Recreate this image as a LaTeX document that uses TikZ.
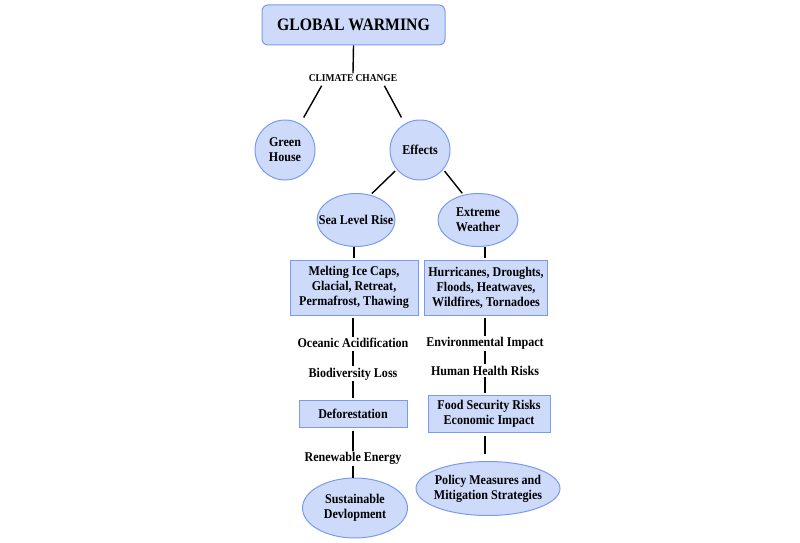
\documentclass[tikz,border=0pt]{standalone}
\usepackage{fontspec}
\setmainfont[FakeStretch=0.9]{Liberation Serif}
\usetikzlibrary{shapes.geometric,calc}
\definecolor{boxfill}{RGB}{205,218,250}
\definecolor{boxline}{RGB}{120,155,240}
\tikzset{
  lbl/.style={font=\bfseries\fontsize{13.4}{15}\selectfont, align=center, inner sep=1pt},
  rbox/.style={lbl, draw=boxline, fill=boxfill, line width=1pt, inner sep=4pt},
  circ/.style={lbl, draw=boxline, fill=boxfill, line width=1pt, circle, minimum size=60pt, inner sep=0pt},
  ell/.style={lbl, draw=boxline, fill=boxfill, line width=1pt, ellipse, inner xsep=-14pt, inner ysep=-4pt},
  conn/.style={draw=black, line width=1.4pt},
}
\begin{document}
\begin{tikzpicture}[x=1pt,y=-1pt]
\useasboundingbox (0,0) rectangle (800,543);
% nodes
\node[rbox, rounded corners=6pt, minimum width=183pt, minimum height=40pt, font=\bfseries\fontsize{17.5}{20}\selectfont] (gw) at (353.5,25) {GLOBAL WARMING};
\node[lbl, font=\bfseries\fontsize{10.5}{12}\selectfont] (cc) at (353,78) {CLIMATE CHANGE};
\node[circ] (gh) at (285,150) {Green\\House};
\node[circ] (ef) at (420,150) {Effects};
\node[ell, minimum width=78pt, minimum height=53pt] (sl) at (356,220) {Sea Level Rise};
\node[ell, minimum width=80pt, minimum height=53pt] (ew) at (478,220) {Extreme\\Weather};
\node[rbox, minimum width=128pt, minimum height=55pt] (mi) at (354,287.5) {Melting Ice Caps,\\Glacial, Retreat,\\Permafrost, Thawing};
\node[rbox, minimum width=122pt, minimum height=55pt] (hu) at (486,287.5) {Hurricanes, Droughts,\\Floods, Heatwaves,\\Wildfires, Tornadoes};
\node[lbl] (oa) at (353,343) {Oceanic Acidification};
\node[lbl] (bl) at (353,374) {Biodiversity Loss};
\node[rbox, minimum width=108pt, minimum height=27pt] (de) at (353,413.5) {Deforestation};
\node[lbl] (re) at (353,458) {Renewable Energy};
\node[ell, minimum width=105pt, minimum height=60pt] (sd) at (355,508) {Sustainable\\Devlopment};
\node[lbl] (ei) at (485,343) {Environmental Impact};
\node[lbl] (hh) at (485,371) {Human Health Risks};
\node[rbox, minimum width=122pt, minimum height=37pt] (fs) at (489,413.5) {Food Security Risks\\Economic Impact};
\node[ell, minimum width=144pt, minimum height=54pt] (pm) at (488,488.5) {Policy Measures and\\Mitigation Strategies};
% connectors
\draw[conn] (gw.south) -- (cc.north);
\draw[conn, shorten >=7pt] ([xshift=14pt,yshift=-3pt]cc.south west) -- (gh.60);
\draw[conn, shorten >=7pt] ([xshift=-14pt,yshift=-3pt]cc.south east) -- (ef.120);
\draw[conn, shorten <=2pt, shorten >=2pt] (ef.220) -- (sl.60);
\draw[conn, shorten <=2pt, shorten >=2pt] (ef.320) -- (ew.120);
\draw[conn, shorten >=2pt] ([xshift=-2pt]sl.south) -- ([xshift=-2pt]sl.south |- mi.north);
\draw[conn, shorten >=2pt] ([xshift=7pt]ew.south) -- ([xshift=7pt]ew.south |- hu.north);
\draw[conn, shorten <=2pt] (oa.north |- mi.south) -- (oa.north);
\draw[conn, shorten <=2pt, shorten >=1pt] (oa.south) -- (bl.north);
\draw[conn, shorten >=2pt] (bl.south) -- (bl.south |- de.north);
\draw[conn, shorten <=3pt] (re.north |- de.south) -- (re.north);
\draw[conn, shorten <=1pt] (re.south) -- (re.south |- sd.north);
\draw[conn, shorten <=2pt] (ei.north |- hu.south) -- (ei.north);
\draw[conn, shorten <=1pt, shorten >=1pt] (ei.south) -- (hh.north);
\draw[conn, shorten >=2pt] (hh.south) -- (hh.south |- fs.north);
\draw[conn, shorten <=3pt, shorten >=7pt] (hh.south |- fs.south) -- (hh.south |- pm.north);
\end{tikzpicture}
\end{document}
